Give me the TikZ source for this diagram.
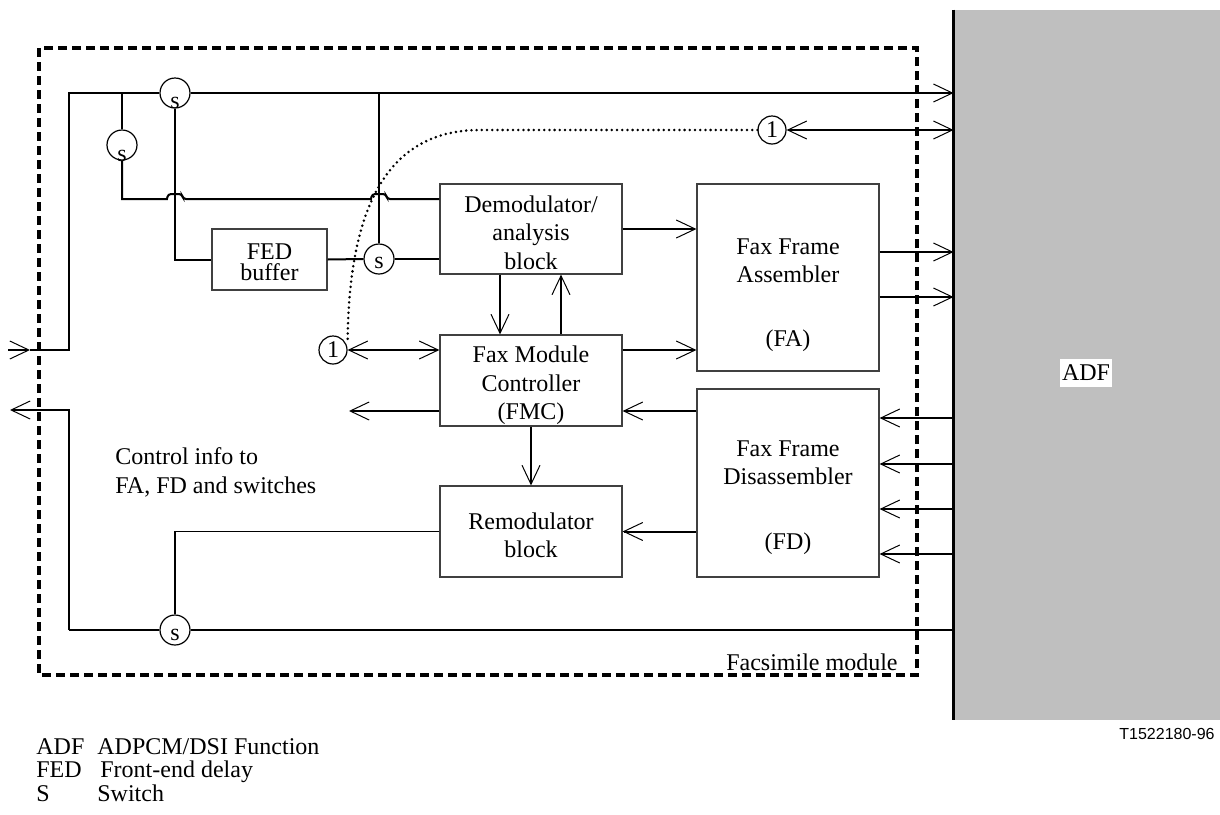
\documentclass[tikz,border=0pt]{standalone}
\usepackage{fontspec}
\setmainfont{Liberation Serif}
\newfontfamily\arialfont{Liberation Sans}
\usetikzlibrary{arrows.meta}
\definecolor{adfgray}{RGB}{191,191,191}
\tikzset{
	blk/.style={draw=black!75,line width=0.6pt,inner sep=0pt},
	txt/.style={align=center,inner sep=0pt},
	sw/.style={circle,draw,line width=0.6pt,minimum size=15pt,inner sep=0pt,label={[yshift=#1]center:s}},
	onec/.style={circle,draw,line width=0.6pt,minimum size=14pt,inner sep=0pt},
	sig/.style={line width=1pt},
	thn/.style={line width=0.6pt},
	lgd/.style={anchor=base west,inner sep=0pt}
}
\begin{document}
\begin{tikzpicture}[x=0.5pt,y=-0.5pt,>={Straight Barb[length=9.5pt,width=9pt,line width=0.5pt]},font=\fontsize{12}{14.25}\selectfont]
	\useasboundingbox (0,0) rectangle (1220,814);
	
	\node[fill=adfgray,minimum width=133pt,minimum height=355pt,inner sep=0pt] (adf) at (1087,365) {};
	\draw[line width=1.5pt] (adf.north west) -- (adf.south west);
	\node[fill=white,inner xsep=1pt,inner ysep=0pt,minimum height=14pt] (adf-t) at (1086,373) {ADF};
	
	\draw[line width=1.7pt,dash pattern=on 4.5pt off 2.5pt] (39,48) rectangle (917,675);
	\node[anchor=base east,inner sep=0pt] (mod-t) at (898,670) {Facsimile module};
	
	\node[blk,minimum width=57.5pt,minimum height=30.5pt] (fed) at (269.5,259.5) {};
	\node[blk,minimum width=91pt,minimum height=45pt] (demod) at (531,229) {};
	\node[blk,minimum width=91pt,minimum height=45.5pt] (fmc) at (531,380.5) {};
	\node[blk,minimum width=91pt,minimum height=45.5pt] (remod) at (531,531.5) {};
	\node[blk,minimum width=91pt,minimum height=93.5pt] (fa) at (788,277.5) {};
	\node[blk,minimum width=91pt,minimum height=94pt] (fd) at (788,483) {};
	
	\node[txt,font=\fontsize{12}{10.5}\selectfont] (fed-t) at ([yshift=-1.5pt]fed.center) {FED\\buffer};
	\node[txt] (demod-t) at ([yshift=-1.7pt]demod.center) {Demodulator/\\analysis\\block};
	\node[txt] (fmc-t) at ([yshift=-2.5pt]fmc.center) {Fax Module\\Controller\\(FMC)};
	\node[txt] (remod-t) at ([yshift=-2pt]remod.center) {Remodulator\\block};
	\node[txt] (fa-t) at ([yshift=-8.6pt]fa.center) {Fax Frame\\Assembler\\[17.5pt](FA)};
	\node[txt] (fd-t) at ([yshift=-7.1pt]fd.center) {Fax Frame\\Disassembler\\[18pt](FD)};
	
	\node[sw=-5pt] (sw1) at (175,93) {};
	\node[sw=-5.5pt] (sw2) at (122,145) {};
	\node[sw=-2pt] (sw3) at (379,259) {};
	\node[sw=-2.5pt] (sw4) at (175,630) {};
	\node[onec] (one-a) at (772,130) {1};
	\node[onec] (one-b) at (333,350) {1};
	
	\coordinate (in-s) at (8,350);
	\coordinate (in-t) at (30,350);
	\coordinate (out-t) at (10,410);
	\coordinate (ctl-t) at (349,411);
	\coordinate (j1) at (122,199);
	
	\draw[thn,->] (in-s) -- (in-t);
	\draw[thn] (in-t) -- (69,350) -- (69,93) -- (sw1.west);
	\draw[thn,->] (sw1.east) -- (adf.west |- sw1);
	\draw[sig] (sw2 |- sw1) -- (sw2.north);
	\draw[sig] (sw2.south) -- (j1) -- (167,199) [rounded corners=1.5pt] -- (168,194) -- (182,194) -- (183,199) [sharp corners] -- (371,199) [rounded corners=1.5pt] -- (372,194) -- (386,194) -- (387,199) [sharp corners] -- (demod.west |- j1);
	\draw[sig] (sw1.south) |- (fed.west);
	\draw[sig] (sw3 |- sw1) -- (sw3.north);
	\draw[sig] (fed.east) -- (sw3.west);
	\draw[sig] (sw3.east) -- (demod.west |- sw3);
	\draw[sig,->] (demod.east) -- (fa.west |- demod.east);
	\foreach \y in {252,297}
		\draw[sig,->] (fa.east |- 0,\y) -- (adf.west |- 0,\y);
	\draw[sig,<->] (one-a.east) -- (adf.west |- one-a);
	\draw[line width=1.4pt,line cap=round,dash pattern=on 0pt off 2.6pt] (one-a.west) -- (480,130) .. controls (380,130) and (349,220) .. (one-b.east |- 0,341);
	\draw[sig,<->] (one-b.east) -- (fmc.west |- one-b);
	\draw[sig,->] (fmc.east |- one-b) -- (fa.west |- one-b);
	\draw[sig,->] (fmc.west |- ctl-t) -- (ctl-t);
	\draw[sig,->] (fd.west |- ctl-t) -- (fmc.east |- ctl-t);
	\foreach \y in {418,464,509,554}
		\draw[sig,->] (adf.west |- 0,\y) -- (fd.east |- 0,\y);
	\draw[sig,->] (demod.south -| 500,0) -- (fmc.north -| 500,0);
	\draw[sig,->] (fmc.north -| 561,0) -- (demod.south -| 561,0);
	\draw[sig,->] (fmc.south) -- (remod.north);
	\draw[sig,->] (fd.west |- remod) -- (remod.east);
	\draw[thn] (remod.west) -| (sw4.north);
	\draw[sig] (adf.west |- sw4) -- (sw4.east);
	\draw[sig] (sw4.west) -- (69,630);
	\draw[thn,->] (69,630) -- (69,410) -- (out-t);
	
	\node[anchor=west,align=left,inner sep=0pt,font=\fontsize{12}{14.5}\selectfont] (ctl-info) at (115,472) {Control info to\\FA, FD and switches};
	
	\node[lgd] (l1a) at (36,754) {ADF};
	\node[lgd] (l1b) at (97,754) {ADPCM/DSI Function};
	\node[lgd] (l2a) at (36,777) {FED};
	\node[lgd] (l2b) at (100,777) {Front-end delay};
	\node[lgd] (l3a) at (36,801) {S};
	\node[lgd] (l3b) at (97,801) {Switch};
	\node[anchor=base east,inner sep=0pt,font=\arialfont\fontsize{8}{9.6}\selectfont] (fig-no) at (1215,739) {T1522180-96};
\end{tikzpicture}
\end{document}
